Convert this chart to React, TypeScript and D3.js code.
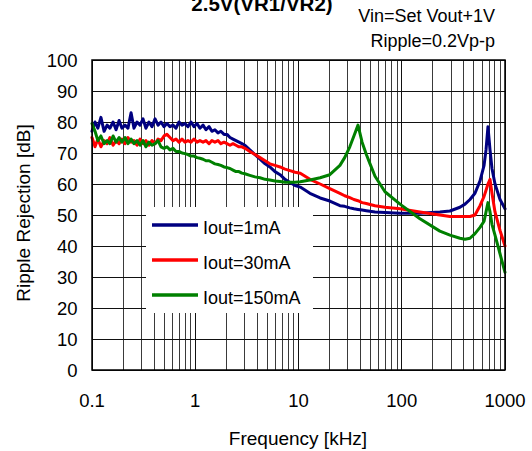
import React from "react";
import * as d3 from "d3";

// Frequency points (kHz)
const freq = [
  0.1, 0.107, 0.114, 0.122, 0.131, 0.14, 0.149, 0.16, 0.171, 0.183, 0.195, 0.209, 0.223, 0.239, 0.255, 0.273,
  0.292, 0.312, 0.333, 0.356, 0.381, 0.408, 0.436, 0.466, 0.498, 0.532, 0.569, 0.609, 0.651, 0.696, 0.744, 0.795,
  0.85, 0.909, 0.972, 1.04, 1.11, 1.19, 1.27, 1.36, 1.45, 1.55, 1.66, 1.77, 1.9, 2.03, 2.17, 2.32,
  2.48, 2.65, 2.83, 3.03,
  3.38, 3.79, 4.24, 4.75, 5.28, 5.92, 6.63, 7.4, 8.28, 9.27, 10.4,
  12.9, 16.2, 20.1, 25.2, 28.0, 31.4, 34.4, 37.7, 41.3, 45.4, 49.3, 55.1, 68.8, 96.2, 150, 234,
  293, 366, 410, 458, 512, 573, 627, 655, 684, 716, 748, 800, 895, 1000,
];

// Ripple rejection (dB)
const iout1mA = [
  77, 80, 78, 81.5, 77, 79, 78, 80, 77.5, 80.5, 78, 79, 78, 83, 78, 80,
  79, 81, 78, 80, 78.5, 81, 79, 80, 78.5, 79.5, 78.5, 79, 78, 80, 79, 79.5,
  78.5, 80, 78.5, 79.5, 78, 79, 77.5, 78.5, 77, 77.5, 76.5, 77, 76, 76, 75, 74.5,
  74, 73.5, 73, 72.5,
  71, 69.5, 68, 66.5, 65.5, 64, 63, 61.5, 60.5, 59.5, 59,
  57, 55.5, 54.5, 53, 52.8, 52.3, 52, 51.8, 51.6, 51.4, 51.2, 51, 50.8, 50.6, 50.6, 51,
  51.3, 52.5, 53.5, 55, 57, 61, 66, 71, 78.5, 71, 65, 60, 55, 52,
];

const iout30mA = [
  75, 72, 74.5, 72, 74, 73, 75, 72.5, 74, 73, 74.5, 73, 75, 73.5, 74, 72.5,
  74.5, 73, 74, 72.5, 74, 73, 74.5, 74, 75.5, 76, 75, 74, 74.5, 73.5, 74.5, 73.5,
  74, 73.5, 74.5, 73.5, 74, 73.5, 74, 73, 74, 73.5, 74, 73, 73.5, 73, 72.5, 73,
  72.5, 72, 72, 71.5,
  70.5, 69.5, 68.5, 67.5, 66.5, 66, 65.5, 64.8, 64.3, 63.8, 63.5,
  61.5, 60, 58.5, 57, 56.2, 55.6, 55, 54.6, 54, 53.7, 53.4, 53, 52.5, 52, 51, 50,
  49.5, 49.5, 49.5, 49.5, 50, 53, 56, 58, 60, 61.5, 57, 51, 45, 40,
];

const iout150mA = [
  79.5, 77, 74, 75.5, 73, 74, 73, 75.5, 73.5, 75, 73.5, 75, 73, 74.5, 73, 74,
  72.5, 74, 72, 73.5, 72.5, 73, 74, 72, 71.5, 72, 71, 71.5, 70.5, 70.5, 70, 69.8,
  69.5, 69, 69, 68.5, 68.3, 68, 67.5, 67.5, 67, 66.5, 66.3, 66, 65.5, 65.3, 65, 64.5,
  64, 64, 63.5, 63.3,
  62.8, 62.3, 62, 61.5, 61.3, 61, 60.8, 60.6, 60.6, 60.6, 60.7,
  61.3, 62, 63, 66, 68.5, 72, 75.5, 79, 73.5, 69.5, 66.5, 62.5, 57.5, 53.5, 48.8, 44.8,
  43.5, 42.5, 42.2, 42.5, 44, 46, 48, 51, 54, 51, 47, 43.5, 37.5, 31.5,
];

const seriesNames = ["Iout=1mA", "Iout=30mA", "Iout=150mA"];
const seriesColors = ["#000080", "#ff0000", "#008000"];
const seriesValues = [iout1mA, iout30mA, iout150mA];

const yTicks = [0, 10, 20, 30, 40, 50, 60, 70, 80, 90, 100];
const xTicks = [0.1, 1, 10, 100, 1000];
const xTickLabels = ["0.1", "1", "10", "100", "1000"];
const decades = [0.1, 1, 10, 100];
const minorMultipliers = [2, 3, 4, 5, 6, 7, 8, 9];

const titleText = "2.5V(VR1/VR2)";
const noteLines = ["Vin=Set Vout+1V", "Ripple=0.2Vp-p"];
const xAxisTitle = "Frequency [kHz]";
const yAxisTitle = "Ripple Rejection [dB]";

export default function App() {
  const W = 532;
  const H = 451;
  const left = 92, right = 505, top = 60, bottom = 370;
  const x = d3.scaleLog().domain([0.1, 1000]).range([left, right]);
  const y = d3.scaleLinear().domain([0, 100]).range([bottom, top]);
  const font = "'Liberation Sans', Arial, sans-serif";

  const minor: number[] = [];
  decades.forEach((d) => minorMultipliers.forEach((m) => minor.push(d * m)));

  const line = d3
    .line<[number, number]>()
    .x((d) => x(d[0]))
    .y((d) => y(d[1]));

  const paths = seriesValues.map((vals) => {
    const n = Math.min(vals.length, freq.length);
    const pts: [number, number][] = [];
    for (let i = 0; i < n; i++) pts.push([freq[i], vals[i]]);
    return line(pts) || "";
  });

  const legX = 146, legY = 207, legW = 167, legH = 106;

  return (
    <svg
      width={W}
      height={H}
      style={{ position: "absolute", left: 0, top: 0, background: "#fff" }}
      fontFamily={font}
    >
      <rect x={0} y={0} width={W} height={H} fill="#fff" />
      {/* grid */}
      <g stroke="#3a3a3a" strokeWidth={1} shapeRendering="crispEdges">
        {minor.map((v, i) => (
          <line key={"mv" + i} x1={x(v)} x2={x(v)} y1={top} y2={bottom} />
        ))}
        {xTicks.map((v, i) => (
          <line key={"Mv" + i} x1={x(v)} x2={x(v)} y1={top} y2={bottom} stroke="#111" />
        ))}
        {yTicks.map((v, i) => (
          <line key={"h" + i} x1={left} x2={right} y1={y(v)} y2={y(v)} stroke="#111" />
        ))}
      </g>
      {/* series */}
      {paths.map((p, i) => (
        <path
          key={"s" + i}
          d={p}
          fill="none"
          stroke={seriesColors[i]}
          strokeWidth={3}
          strokeLinejoin="round"
          strokeLinecap="round"
        />
      ))}
      {/* frame */}
      <rect
        x={left}
        y={top}
        width={right - left}
        height={bottom - top}
        fill="none"
        stroke="#000"
        strokeWidth={1.5}
      />
      {/* legend */}
      <rect x={legX} y={legY} width={legW} height={legH} fill="#fff" />
      {seriesNames.map((name, i) => (
        <g key={"l" + i}>
          <line
            x1={legX + 6}
            x2={legX + 52}
            y1={legY + 18 + i * 35}
            y2={legY + 18 + i * 35}
            stroke={seriesColors[i]}
            strokeWidth={3.5}
          />
          <text x={legX + 57} y={legY + 27 + i * 35} fontSize={18} fill="#000">
            {name}
          </text>
        </g>
      ))}
      {/* y tick labels */}
      {yTicks.map((v, i) => (
        <text key={"yt" + i} x={77.5} y={y(v) + 6.5} fontSize={18.5} textAnchor="end" fill="#000">
          {v}
        </text>
      ))}
      {/* x tick labels */}
      {xTicks.map((v, i) => (
        <text key={"xt" + i} x={x(v)} y={406.5} fontSize={18.5} textAnchor="middle" fill="#000">
          {xTickLabels[i]}
        </text>
      ))}
      <text x={298} y={445} fontSize={19} textAnchor="middle" fill="#000">
        {xAxisTitle}
      </text>
      <text
        transform={`translate(29.5, 213) rotate(-90)`}
        fontSize={19}
        textAnchor="middle"
        fill="#000"
      >
        {yAxisTitle}
      </text>
      <text x={262} y={11} fontSize={20.5} fontWeight="bold" textAnchor="middle" fill="#000">
        {titleText}
      </text>
      <text x={495} y={21.5} fontSize={18} textAnchor="end" fill="#000">
        {noteLines[0]}
      </text>
      <text x={495} y={46.5} fontSize={18} textAnchor="end" fill="#000">
        {noteLines[1]}
      </text>
    </svg>
  );
}
